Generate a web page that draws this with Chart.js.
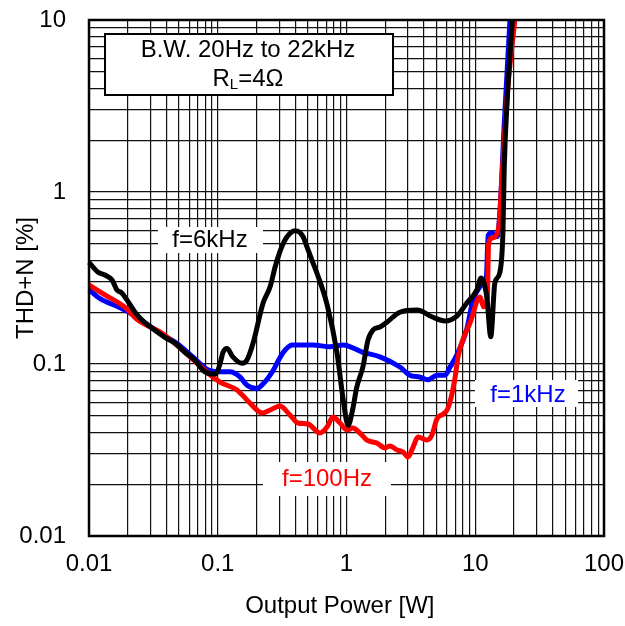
<!DOCTYPE html>
<html>
<head>
<meta charset="utf-8">
<script src="https://cdn.jsdelivr.net/npm/chart.js@4.4.0/dist/chart.umd.min.js"></script>
<style>
  html, body { margin: 0; padding: 0; background: #fff; }
</style>
</head>
<body>
<canvas id="graficoThd" width="625" height="626"></canvas>
<script>
  // eixos
  const xTickValues = [0.01, 0.1, 1, 10, 100];
  const xTickLabels = ["0.01", "0.1", "1", "10", "100"];
  const yTickValues = [0.01, 0.1, 1, 10];
  const yTickLabels = ["0.01", "0.1", "1", "10"];

  // f=6kHz
  const potencia6k = [0.01, 0.0117, 0.0133, 0.0151, 0.0165, 0.018, 0.0197, 0.0228, 0.0258, 0.0308, 0.0389, 0.0466, 0.0557, 0.0666, 0.0767, 0.09, 0.097, 0.104, 0.11, 0.118, 0.131, 0.154, 0.168, 0.188, 0.225, 0.255, 0.28, 0.304, 0.33, 0.36, 0.398, 0.43, 0.46, 0.493, 0.54, 0.59, 0.706, 0.844, 0.94, 1.03, 1.12, 1.2, 1.34, 1.47, 1.61, 1.82, 2.06, 2.6, 3.53, 4.7, 5.82, 7.2, 8.6, 10.3, 11.1, 12.3, 13.2, 14.2, 15.5, 16.4, 16.8, 17.7, 19.4];
  const thd6k = [0.39, 0.343, 0.329, 0.308, 0.269, 0.259, 0.236, 0.2, 0.18, 0.162, 0.143, 0.132, 0.117, 0.105, 0.092, 0.0875, 0.088, 0.1, 0.117, 0.123, 0.11, 0.101, 0.105, 0.132, 0.226, 0.281, 0.37, 0.45, 0.52, 0.57, 0.595, 0.585, 0.55, 0.479, 0.4, 0.337, 0.222, 0.116, 0.063, 0.044, 0.055, 0.073, 0.096, 0.138, 0.158, 0.164, 0.175, 0.2, 0.206, 0.187, 0.178, 0.19, 0.226, 0.27, 0.316, 0.245, 0.144, 0.296, 0.339, 0.578, 1.4, 3.4, 10];

  // f=100Hz
  const potencia100 = [0.01, 0.0133, 0.019, 0.024, 0.0369, 0.0557, 0.084, 0.104, 0.141, 0.178, 0.221, 0.255, 0.304, 0.364, 0.42, 0.502, 0.622, 0.706, 0.785, 0.891, 1.01, 1.12, 1.27, 1.44, 1.72, 1.99, 2.18, 2.47, 2.75, 3.0, 3.29, 3.59, 4.22, 4.6, 5.04, 5.6, 6.04, 6.5, 7.0, 7.35, 8.2, 9.1, 10.9, 11.6, 12.4, 12.7, 13.5, 15.2, 16.2, 17.9, 20.3];
  const thd100 = [0.288, 0.252, 0.214, 0.18, 0.151, 0.117, 0.0887, 0.0785, 0.0706, 0.0593, 0.0519, 0.054, 0.057, 0.0505, 0.0454, 0.0448, 0.0397, 0.043, 0.0492, 0.0454, 0.0413, 0.0425, 0.0397, 0.0361, 0.0347, 0.0325, 0.0334, 0.0316, 0.0308, 0.0288, 0.0329, 0.0376, 0.0361, 0.0385, 0.048, 0.051, 0.054, 0.064, 0.085, 0.11, 0.145, 0.173, 0.245, 0.215, 0.24, 0.5, 0.54, 0.62, 1.3, 4.0, 10];

  // f=1kHz
  const potencia1k = [0.01, 0.0122, 0.0168, 0.0209, 0.03, 0.0389, 0.048, 0.064, 0.083, 0.104, 0.124, 0.149, 0.168, 0.2, 0.23, 0.27, 0.32, 0.38, 0.55, 0.745, 0.94, 1.34, 1.82, 2.6, 3.1, 3.7, 4.3, 5.04, 5.82, 6.37, 7.2, 8.6, 9.6, 10.5, 11.3, 12.2, 12.6, 13.5, 14.8, 15.6, 16.8, 18.6];
  const thd1k = [0.27, 0.24, 0.215, 0.198, 0.165, 0.145, 0.132, 0.11, 0.093, 0.09, 0.09, 0.084, 0.0755, 0.072, 0.078, 0.092, 0.116, 0.129, 0.129, 0.126, 0.129, 0.117, 0.11, 0.096, 0.086, 0.084, 0.081, 0.086, 0.086, 0.096, 0.113, 0.16, 0.235, 0.27, 0.29, 0.32, 0.56, 0.58, 0.55, 0.8, 2.5, 10];

  function pontos(xs, ys) {
    return xs.map((x, i) => ({ x: x, y: ys[i] }));
  }

  // linhas de grade 1..9 em cada década
  function gradeLog(min, max) {
    const vals = [];
    for (let e = Math.round(Math.log10(min)); e < Math.round(Math.log10(max)); e++) {
      for (let m = 1; m < 10; m++) {
        vals.push(Number((m * Math.pow(10, e)).toPrecision(2)));
      }
    }
    vals.push(max);
    return vals;
  }

  function rotulo(valores, textos) {
    return function (value) {
      const i = valores.findIndex((v) => Math.abs(v - value) < v * 1e-6);
      return i >= 0 ? textos[i] : "";
    };
  }

  const fonte = "'Liberation Sans', Arial, sans-serif";

  const textos = {
    id: "textos",
    afterDraw(chart) {
      const { ctx, chartArea: a } = chart;
      ctx.save();

      // moldura
      ctx.strokeStyle = "#000";
      ctx.lineWidth = 2.5;
      ctx.strokeRect(a.left, a.top, a.right - a.left, a.bottom - a.top);

      // caixa B.W.
      ctx.fillStyle = "#fff";
      ctx.fillRect(105, 34, 288, 61);
      ctx.lineWidth = 2;
      ctx.strokeRect(105, 34, 288, 61);

      ctx.fillStyle = "#000";
      ctx.textBaseline = "middle";
      ctx.textAlign = "center";
      ctx.font = "24px " + fonte;
      ctx.fillText("B.W. 20Hz to 22kHz", 248, 50);

      // R_L=4Ω
      ctx.textAlign = "left";
      const wR = ctx.measureText("R").width;
      const wResto = ctx.measureText("=4Ω").width;
      ctx.font = "15px " + fonte;
      const wL = ctx.measureText("L").width;
      let x0 = 248 - (wR + wL + wResto) / 2;
      ctx.font = "24px " + fonte;
      ctx.fillText("R", x0, 79);
      ctx.font = "15px " + fonte;
      ctx.fillText("L", x0 + wR, 85);
      ctx.font = "24px " + fonte;
      ctx.fillText("=4Ω", x0 + wR + wL, 79);

      // rótulos das curvas
      ctx.textAlign = "center";
      const etiquetas = [
        { t: "f=6kHz", cor: "#000", box: [158, 227, 105, 26], cx: 210, cy: 240 },
        { t: "f=1kHz", cor: "#0000ff", box: [475, 380, 103, 27], cx: 528, cy: 395 },
        { t: "f=100Hz", cor: "#ff0000", box: [263, 462, 128, 34], cx: 327, cy: 479 },
      ];
      etiquetas.forEach((e) => {
        ctx.fillStyle = "#fff";
        ctx.fillRect(e.box[0], e.box[1], e.box[2], e.box[3]);
        ctx.fillStyle = e.cor;
        ctx.fillText(e.t, e.cx, e.cy);
      });

      ctx.restore();
    },
  };

  const ctx = document.getElementById("graficoThd");

  const graficoThd = new Chart(ctx, {
    type: "scatter",
    data: {
      datasets: [
        {
          label: "f=6kHz",
          data: pontos(potencia6k, thd6k),
          borderColor: "#000000",
        },
        {
          label: "f=100Hz",
          data: pontos(potencia100, thd100),
          borderColor: "#ff0000",
        },
        {
          label: "f=1kHz",
          data: pontos(potencia1k, thd1k),
          borderColor: "#0000ff",
        },
      ],
    },
    options: {
      responsive: false,
      animation: false,
      showLine: true,
      datasets: {
        scatter: {
          showLine: true,
          pointRadius: 0,
          borderWidth: 5,
          cubicInterpolationMode: "monotone",
          fill: false,
          clip: 3,
        },
      },
      layout: {
        padding: { left: 0, right: 21, top: 20, bottom: 0 },
      },
      plugins: {
        legend: { display: false },
        tooltip: { enabled: false },
      },
      scales: {
        x: {
          type: "logarithmic",
          min: 0.01,
          max: 100,
          afterBuildTicks: (scale) => {
            scale.ticks = gradeLog(0.01, 100).map((v) => ({ value: v }));
          },
          afterFit: (scale) => {
            scale.height = 90;
            scale.paddingLeft = 0;
            scale.paddingRight = 0;
          },
          ticks: {
            autoSkip: false,
            maxRotation: 0,
            padding: 14,
            color: "#000",
            font: { family: fonte, size: 24 },
            callback: rotulo(xTickValues, xTickLabels),
          },
          grid: { color: "#111", lineWidth: 1.2, drawTicks: false },
          border: { display: false },
          title: {
            display: true,
            text: "Output Power [W]  ",
            color: "#000",
            font: { family: fonte, size: 24 },
            padding: { top: 0, bottom: 5 },
          },
        },
        y: {
          type: "logarithmic",
          min: 0.01,
          max: 10,
          afterBuildTicks: (scale) => {
            scale.ticks = gradeLog(0.01, 10).map((v) => ({ value: v }));
          },
          afterFit: (scale) => {
            scale.width = 89;
            scale.paddingTop = 0;
            scale.paddingBottom = 0;
          },
          ticks: {
            autoSkip: false,
            padding: 23,
            color: "#000",
            font: { family: fonte, size: 24 },
            callback: rotulo(yTickValues, yTickLabels),
          },
          grid: { color: "#111", lineWidth: 1.2, drawTicks: false },
          border: { display: false },
          title: {
            display: true,
            text: "THD+N [%]",
            color: "#000",
            font: { family: fonte, size: 24 },
            padding: { top: 12, bottom: 0 },
          },
        },
      },
    },
    plugins: [textos],
  });
</script>
</body>
</html>
